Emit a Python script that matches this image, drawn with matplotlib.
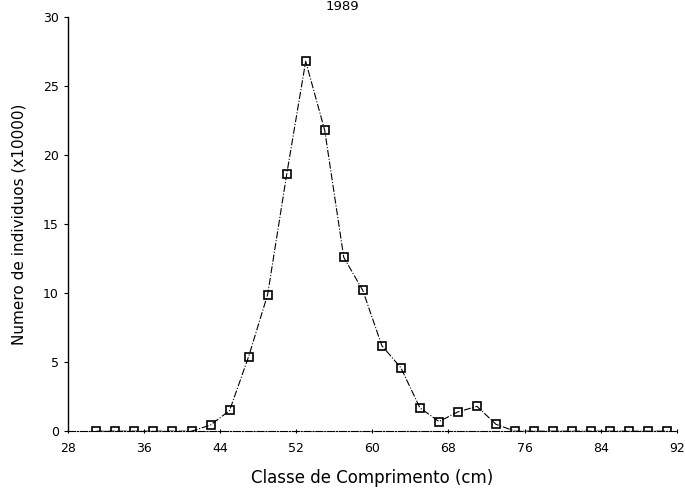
import matplotlib.pyplot as plt

# length classes (cm) and number of individuals (x10000), 1989
comprimento = [31, 33, 35, 37, 39, 41, 43, 45, 47, 49, 51, 53, 55, 57, 59, 61,
               63, 65, 67, 69, 71, 73, 75, 77, 79, 81, 83, 85, 87, 89, 91]
individuos = [0, 0, 0, 0, 0, 0, 0.45, 1.5, 5.4, 9.9, 18.6, 26.8, 21.8, 12.6, 10.2, 6.2,
              4.6, 1.7, 0.7, 1.4, 1.8, 0.5, 0, 0, 0, 0, 0, 0, 0, 0, 0]
xticks = [28, 36, 44, 52, 60, 68, 76, 84, 92]
yticks = [0, 5, 10, 15, 20, 25, 30]

fig = plt.figure(figsize=(6.85, 4.9), dpi=100)
ax = fig.add_axes([0.099, 0.12, 0.889, 0.845])

ax.plot(comprimento, individuos, color='black', linestyle='-.', linewidth=0.8,
        marker='s', markersize=5.5, markerfacecolor='none', markeredgecolor='black',
        markeredgewidth=1.2)

ax.set_xlim(28, 92)
ax.set_ylim(0, 30)
ax.set_xticks(xticks)
ax.set_yticks(yticks)
ax.tick_params(axis='both', labelsize=9, length=3, width=0.8)
ax.tick_params(axis='x', direction='inout', pad=6)

ax.spines['top'].set_visible(False)
ax.spines['right'].set_visible(False)
ax.spines['left'].set_linewidth(1.0)
ax.spines['bottom'].set_linestyle('-.')
ax.spines['bottom'].set_linewidth(0.8)

ax.set_xlabel("Classe de Comprimento (cm)", fontsize=12, labelpad=10)
ax.set_ylabel("Numero de individuos (x10000)", fontsize=11, labelpad=12)
fig.text(0.5, 0.999, "1989", ha='center', va='top', fontsize=9.5)

fig.savefig("out.png", dpi=100)
